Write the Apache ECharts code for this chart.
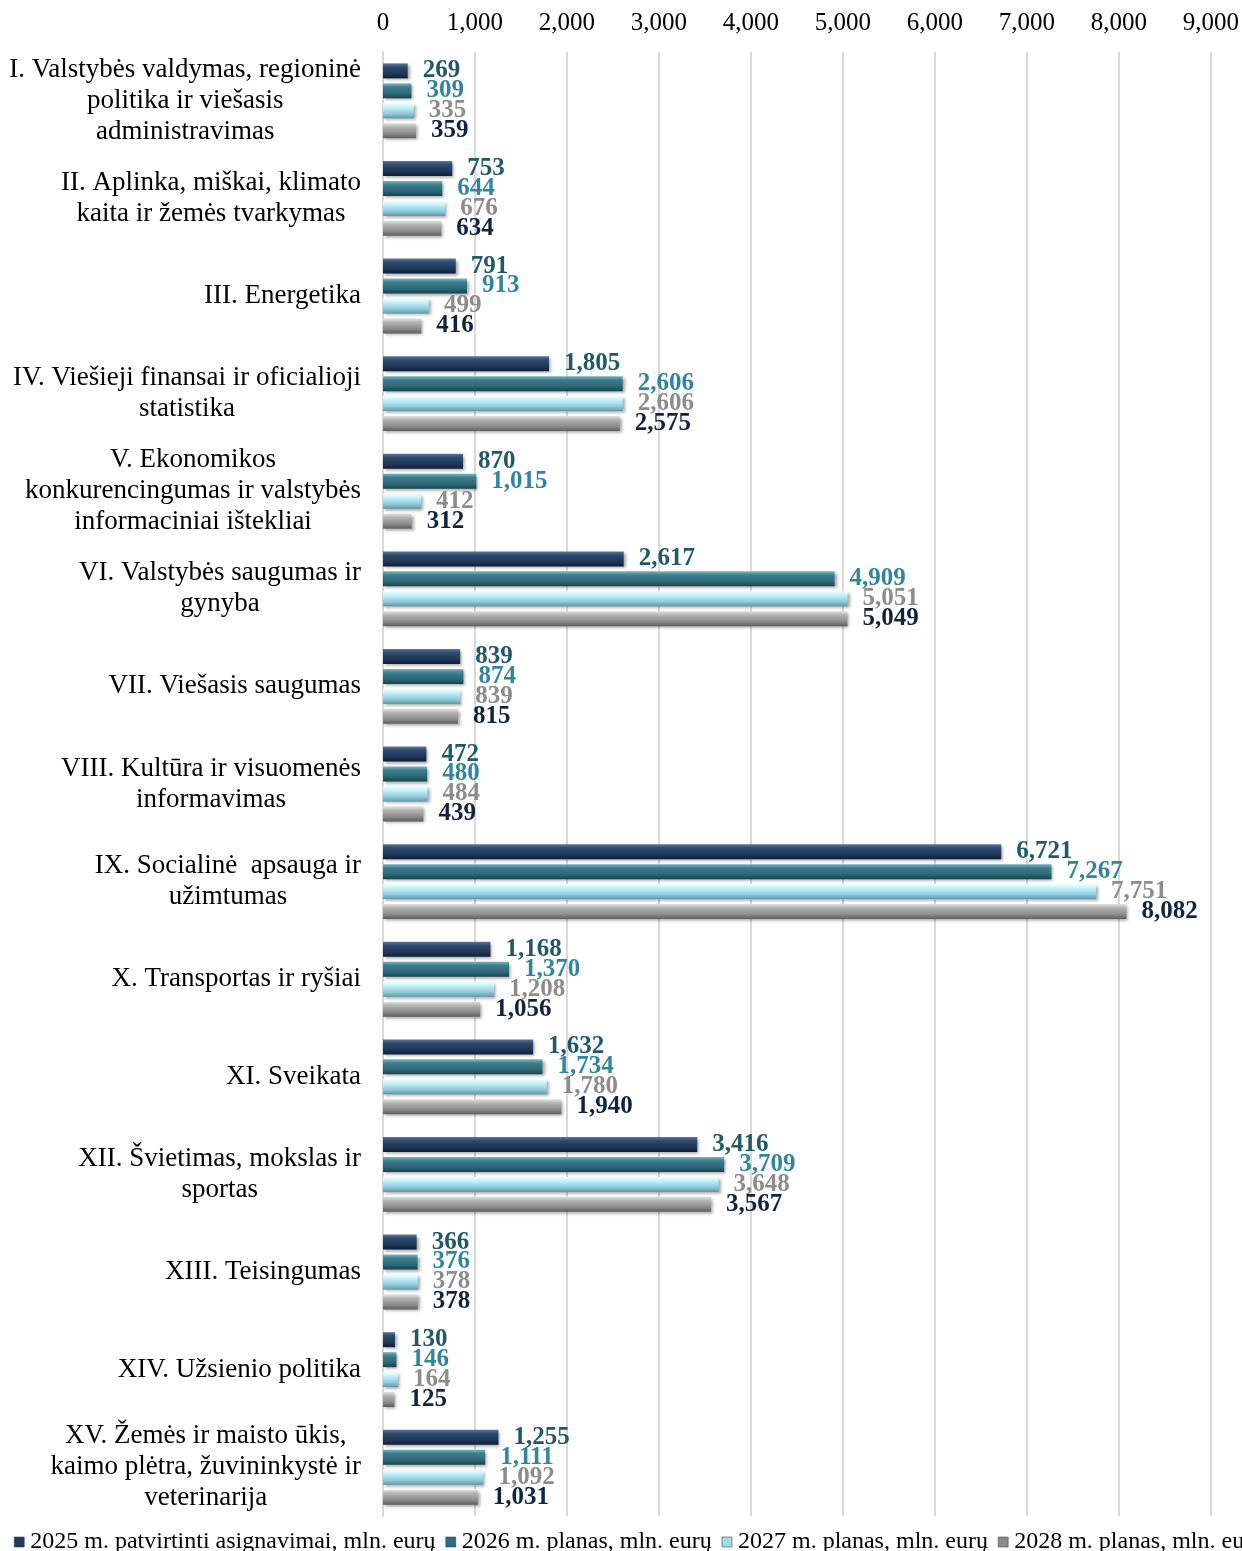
<!DOCTYPE html>
<html>
<head>
<meta charset="utf-8">
<script src="https://cdn.jsdelivr.net/npm/echarts@6/dist/echarts.min.js"></script>
<style>
  html, body { margin: 0; padding: 0; background: #fff; }
  #chart { width: 1242px; height: 1551px; }
</style>
</head>
<body>
<div id="chart"></div>
<script>
var categories = [
    'I. Valstybės valdymas, regioninė\npolitika ir viešasis\nadministravimas',
    'II. Aplinka, miškai, klimato\nkaita ir žemės tvarkymas',
    'III. Energetika',
    'IV. Viešieji finansai ir oficialioji\nstatistika',
    'V. Ekonomikos\nkonkurencingumas ir valstybės\ninformaciniai ištekliai',
    'VI. Valstybės saugumas ir\ngynyba',
    'VII. Viešasis saugumas',
    'VIII. Kultūra ir visuomenės\ninformavimas',
    'IX. Socialinė  apsauga ir\nužimtumas',
    'X. Transportas ir ryšiai',
    'XI. Sveikata',
    'XII. Švietimas, mokslas ir\nsportas',
    'XIII. Teisingumas',
    'XIV. Užsienio politika',
    'XV. Žemės ir maisto ūkis,\nkaimo plėtra, žuvininkystė ir\nveterinarija'
];

var seriesNames = [
    '2025 m. patvirtinti asignavimai, mln. eurų',
    '2026 m. planas, mln. eurų',
    '2027 m. planas, mln. eurų',
    '2028 m. planas, mln. eurų'
];

var values2025 = [269, 753, 791, 1805, 870, 2617, 839, 472, 6721, 1168, 1632, 3416, 366, 130, 1255];
var values2026 = [309, 644, 913, 2606, 1015, 4909, 874, 480, 7267, 1370, 1734, 3709, 376, 146, 1111];
var values2027 = [335, 676, 499, 2606, 412, 5051, 839, 484, 7751, 1208, 1780, 3648, 378, 164, 1092];
var values2028 = [359, 634, 416, 2575, 312, 5049, 815, 439, 8082, 1056, 1940, 3567, 378, 125, 1031];

var xTicks = [0, 1000, 2000, 3000, 4000, 5000, 6000, 7000, 8000, 9000];

var serif = '"Liberation Serif", "Times New Roman", serif';

// bevel look: light top edge, dark bottom edge
function bevel(top, mid, low, bottom) {
    return new echarts.graphic.LinearGradient(0, 0, 0, 1, [
        {offset: 0, color: top},
        {offset: 0.25, color: mid},
        {offset: 0.7, color: low},
        {offset: 1, color: bottom}
    ]);
}

var looks = [
    {fill: bevel('#5b7698', '#2f4a6e', '#1e3656', '#0f1f36'), legend: '#1f3a5c', label: '#215968'},
    {fill: bevel('#7fb4c0', '#3d7e8e', '#2b6676', '#17434f'), legend: '#2f6f7f', label: '#31859c'},
    {fill: bevel('#f0ffff', '#c6f3fb', '#8fcadb', '#5f98a8'), legend: '#9fdbe8', label: '#8c8c8c'},
    {fill: bevel('#e2e2e2', '#b5b5b5', '#8a8a8a', '#5e5e5e'), legend: '#8a8a8a', label: '#0f243e'}
];

var allValues = [values2025, values2026, values2027, values2028];

function fmt(v) {
    return Number(v).toLocaleString('en-US');
}

var chart = echarts.init(document.getElementById('chart'));

var option = {
    animation: false,
    grid: {
        left: 383,
        right: 31,
        top: 52,
        bottom: 35,
        containLabel: false
    },
    legend: {
        left: 9,
        top: 1525,
        width: 1600,
        itemWidth: 10,
        itemHeight: 10,
        itemGap: 10,
        icon: 'rect',
        textStyle: {
            fontFamily: serif,
            fontSize: 24,
            color: '#000',
            padding: [0, 0, 0, 1]
        },
        data: seriesNames.map(function (n, i) {
            return {name: n, itemStyle: {color: looks[i].legend, borderColor: '#333', borderWidth: 0.5}};
        })
    },
    xAxis: {
        type: 'value',
        position: 'top',
        min: xTicks[0],
        max: xTicks[xTicks.length - 1],
        interval: 1000,
        axisLine: {show: false},
        axisTick: {show: false},
        splitLine: {lineStyle: {color: '#d9d9d9', width: 2}},
        axisLabel: {
            fontFamily: serif,
            fontSize: 25,
            color: '#000',
            margin: 16,
            formatter: fmt
        }
    },
    yAxis: {
        type: 'category',
        inverse: true,
        data: categories,
        axisLine: {show: true, lineStyle: {color: '#d9d9d9', width: 2}},
        axisTick: {show: false},
        axisLabel: {
            margin: 22,
            interval: 0,
            formatter: function (v) {
                return v.split('\n').map(function (s) { return '{c|' + s + '}'; }).join('\n');
            },
            rich: {
                c: {
                    align: 'center',
                    fontFamily: serif,
                    fontSize: 27,
                    lineHeight: 31,
                    color: '#000'
                }
            }
        }
    },
    series: allValues.map(function (vals, i) {
        return {
            name: seriesNames[i],
            type: 'bar',
            data: vals,
            barWidth: 15,
            barGap: '33%',
            barCategoryGap: '22%',
            itemStyle: {
                color: looks[i].fill,
                shadowColor: 'rgba(0,0,0,0.35)',
                shadowBlur: 3,
                shadowOffsetX: 2,
                shadowOffsetY: 2
            },
            label: {
                show: true,
                position: 'right',
                distance: 15,
                fontFamily: serif,
                fontWeight: 'bold',
                fontSize: 25,
                color: looks[i].label,
                formatter: function (p) { return fmt(p.value); }
            }
        };
    })
};

chart.setOption(option);
</script>
</body>
</html>
